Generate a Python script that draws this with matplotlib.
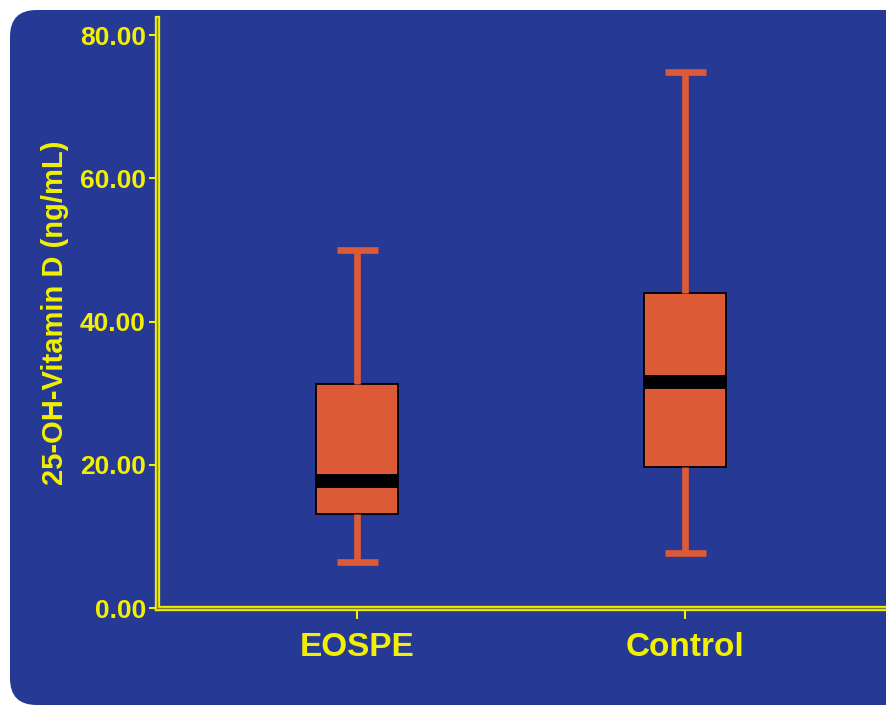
import matplotlib
matplotlib.use("Agg")
import matplotlib.pyplot as plt
from matplotlib.patches import FancyBboxPatch

plt.rcParams['font.family'] = ['Liberation Sans', 'DejaVu Sans']

categories = ["EOSPE", "Control"]
whislo = [6.4, 7.7]
q1 = [13.1, 19.7]
med = [17.7, 31.6]
q3 = [31.3, 44.0]
whishi = [50.0, 74.9]
yticks = [0, 20, 40, 60, 80]
ylabel = "25-OH-Vitamin D (ng/mL)"

BLUE = "#263995"
YEL = "#f2f000"
ORANGE = "#dc5a36"

fig = plt.figure(figsize=(8.86, 7.06), dpi=100)
fig.patch.set_facecolor("white")
bg = FancyBboxPatch((10/886, 1/706), 1.2, 1 - 11/706,
                    boxstyle="round,pad=0,rounding_size=0.03",
                    transform=fig.transFigure, facecolor=BLUE, edgecolor="none",
                    mutation_aspect=886/706, zorder=-10)
fig.patches.append(bg)

ax = fig.add_axes([157/886, 1 - 608/706, 1 - 157/886, (608 - 18)/706])
ax.set_facecolor("none")
ax.set_zorder(1)

stats = []
for i, c in enumerate(categories):
    stats.append(dict(label=c, whislo=whislo[i], q1=q1[i], med=med[i],
                      q3=q3[i], whishi=whishi[i], fliers=[]))

ax.bxp(stats, positions=[1, 2], widths=0.25, capwidths=0.125, patch_artist=True,
       showfliers=False,
       boxprops=dict(facecolor=ORANGE, edgecolor="black", linewidth=1.3),
       whiskerprops=dict(color=ORANGE, linewidth=4.8, solid_capstyle="butt"),
       capprops=dict(color=ORANGE, linewidth=4.8, solid_capstyle="butt"),
       medianprops=dict(color="black", linewidth=10, solid_capstyle="butt"))

ax.set_xlim(1 - 200/328, 2 + 201/328)
ax.set_ylim(0, 80 + 17/7.16)
ax.set_yticks(yticks)
ax.set_yticklabels([f"{v:.2f}" for v in yticks])
ax.set_xticks([1, 2])
ax.set_xticklabels(categories)

for s in ["top", "right"]:
    ax.spines[s].set_visible(False)
for s in ["left", "bottom"]:
    ax.spines[s].set_color(YEL)
    ax.spines[s].set_linewidth(3.8)
    ax.spines[s].set_zorder(5)
# inner dark line to create the double-line look
ax.plot([0, 0], [0, 1], transform=ax.transAxes, color="#7d7a3a", lw=1.0,
        clip_on=False, zorder=6)
ax.plot([0, 1], [0, 0], transform=ax.transAxes, color="#7d7a3a", lw=1.0,
        clip_on=False, zorder=6)

ax.tick_params(axis="y", colors=YEL, length=6, width=1.5, labelsize=19,
               pad=2)
ax.tick_params(axis="x", colors=YEL, length=8, width=1.5, labelsize=24,
               pad=9)
for lab in ax.get_yticklabels() + ax.get_xticklabels():
    lab.set_fontweight("bold")
    lab.set_color(YEL)

ax.set_ylabel(ylabel, color=YEL, fontsize=21, fontweight="bold", labelpad=8)

fig.savefig("out.png", dpi=100, facecolor="white")
